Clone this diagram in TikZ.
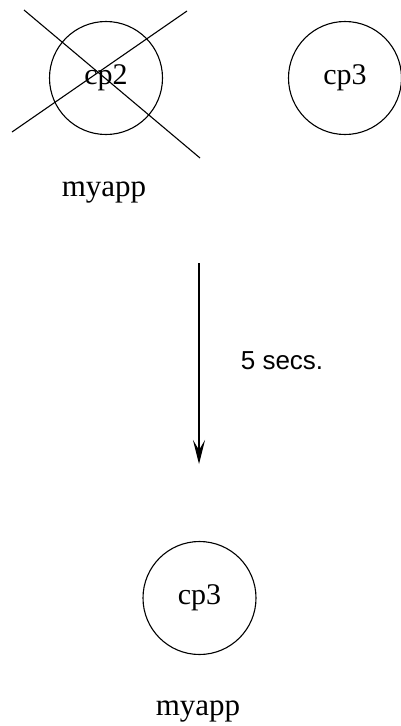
\documentclass[tikz,border=0pt]{standalone}
\usepackage{fontspec}
\setmainfont{Liberation Serif}
\newfontfamily\secsfont{Liberation Sans}
\usetikzlibrary{positioning, arrows.meta}

\begin{document}
\begin{tikzpicture}[x=1pt, y=-1pt, line width=1.1pt,
  proc/.style={draw, circle, minimum size=113pt, inner sep=0pt, font=\fontsize{30}{34}\selectfont},
  applabel/.style={anchor=base, font=\fontsize{31}{34}\selectfont}]
\useasboundingbox (0,0) rectangle (401,726);

% before
\node[proc] (cp2) at (106, 78) {cp2};
\node[proc] (cp3a) at (345, 78) {cp3};
\node[applabel] (app1) at (104, 196) {myapp};

% cp2 crossed out
\coordinate (x1a) at (24, 10);
\coordinate (x1b) at (200, 158);
\coordinate (x2a) at (12, 132);
\coordinate (x2b) at (187, 11);
\draw (x1a) -- (x1b);
\draw (x2a) -- (x2b);

% time step
\coordinate (t0) at (199, 263);
\coordinate (t1) at (199, 464);
\draw[-{Stealth[length=24pt, width=12pt, inset=10pt]}] (t0) -- (t1);
\node[font=\secsfont\fontsize{26}{30}\selectfont, anchor=west] (dt) at (237, 361) {5 secs.};

% after
\node[proc] (cp3b) at (199.5, 598) {cp3};
\node[applabel] (app2) at (198, 715) {myapp};
\end{tikzpicture}
\end{document}
